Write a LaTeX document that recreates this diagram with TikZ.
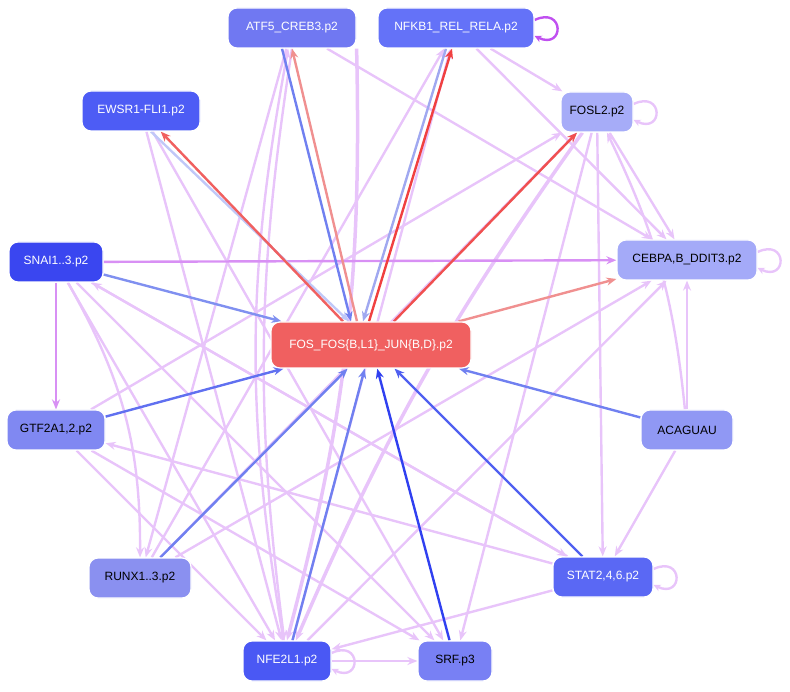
\documentclass[tikz,border=0pt]{standalone}
\usepackage{fontspec}
\setmainfont{Liberation Sans}
\usetikzlibrary{arrows.meta}
\begin{document}
\begin{tikzpicture}[x=1pt,y=-1pt,
 nd/.style={rounded corners=9pt,minimum height=40pt,inner sep=0pt,draw=white,line width=1.2pt,font=\fontsize{12}{12}\selectfont,text=#1},
 e/.style={line width=2.4pt,draw=#1,-{Stealth[length=10pt,width=8pt]}},
 lp/.style={line width=2.4pt,draw=#1,-{Stealth[length=7pt,width=7pt]}},
]
\useasboundingbox (0,0) rectangle (790,692);
\definecolor{cA}{HTML}{7078F2}\definecolor{cN}{HTML}{6472F8}\definecolor{cE}{HTML}{4D5CF5}
\definecolor{cF}{HTML}{A6ACF8}\definecolor{cS}{HTML}{3A46F0}\definecolor{cC}{HTML}{A4AAF8}
\definecolor{cO}{HTML}{F06060}\definecolor{cG}{HTML}{8088F2}\definecolor{cU}{HTML}{9098F4}
\definecolor{cR}{HTML}{8A90F0}\definecolor{cT}{HTML}{5A68F4}\definecolor{cL}{HTML}{4A58F4}
\definecolor{cP}{HTML}{7880F4}\definecolor{lv}{HTML}{E8C4FA}\definecolor{mv}{HTML}{D890F4}
\definecolor{k1}{HTML}{C050F0}\definecolor{b1}{HTML}{8090F0}\definecolor{b2}{HTML}{6070F0}
\definecolor{b3}{HTML}{7080F0}\definecolor{b4}{HTML}{3040F0}\definecolor{b5}{HTML}{5060F0}
\definecolor{b6}{HTML}{A0A8F0}\definecolor{b7}{HTML}{C0C8F8}\definecolor{r1}{HTML}{F09090}
\definecolor{r2}{HTML}{F04040}\definecolor{r3}{HTML}{F05050}\definecolor{r4}{HTML}{F06060}
\tikzset{v/.style={e=lv}}
\node[nd=white,fill=cA,minimum width=128pt] (atf) at (292,28) {ATF5\_CREB3.p2};
\node[nd=white,fill=cN,minimum width=156pt] (nfk) at (456,28) {NFKB1\_REL\_RELA.p2};
\node[nd=white,fill=cE,minimum width=118pt] (ews) at (141,111) {EWSR1-FLI1.p2};
\node[nd=black,fill=cF,minimum width=72pt] (fosl) at (597,112) {FOSL2.p2};
\node[nd=white,fill=cS,minimum width=94pt] (sna) at (56,262) {SNAI1..3.p2};
\node[nd=black,fill=cC,minimum width=140pt] (ceb) at (687,260) {CEBPA,B\_DDIT3.p2};
\node[nd=white,fill=cO,minimum width=200pt,minimum height=46pt] (fos) at (371,345) {FOS\_FOS\{B,L1\}\_JUN\{B,D\}.p2};
\node[nd=black,fill=cG,minimum width=98pt] (gtf) at (56,430) {GTF2A1,2.p2};
\node[nd=black,fill=cU,minimum width=92pt] (aca) at (687,430) {ACAGUAU};
\node[nd=black,fill=cR,minimum width=102pt] (run) at (140,578) {RUNX1..3.p2};
\node[nd=white,fill=cT,minimum width=100pt] (sta) at (603,577) {STAT2,4,6.p2};
\node[nd=white,fill=cL,minimum width=88pt] (nfe) at (287,661) {NFE2L1.p2};
\node[nd=black,fill=cP,minimum width=74pt] (srf) at (455,661) {SRF.p3};
% light violet edges
\draw[v] (atf) -- (ceb);
\draw[v] (atf.south) to[bend right=8] (nfe);
\draw[v,line width=3.5pt] (atf.south east) to[bend left=8] (nfe.north);
\draw[v] (atf) to (run);
\draw[v] (nfk) -- (fosl);
\draw[v] (nfk) -- (ceb);
\draw[v] (fosl) -- (ceb);
\draw[v,line width=3.5pt] (fosl) to[bend right=6] (nfe);
\draw[v] (fosl) -- (srf);
\draw[v] (fosl) -- (sta);
\draw[v] (aca) -- (ceb);
\draw[v] (aca) -- (sta);
\draw[v] (aca) to[bend right=10] (fosl);
\draw[v] (gtf) -- (fosl);
\draw[v] (gtf) -- (srf);
\draw[v] (gtf) -- (nfe);
\draw[v] (sna) -- (sta);
\draw[v] (sna) to[bend left=15] (run);
\draw[v] (sna) -- (srf);
\draw[v] (sna) -- (nfe);
\draw[v] (run) -- (nfk);
\draw[v] (run) -- (ceb);
\draw[v] (ews) -- (nfe);
\draw[v] (ews) -- (srf);
\draw[v] (sta) -- (nfe);
\draw[v] (sta) -- (gtf);
\draw[v] (nfe) -- (srf);
\draw[v] (nfe) -- (ceb);
\draw[v] (nfe) -- (nfk);
\draw[v] (sta) -- (sna);
\draw[v] (nfe) to[bend left=10] (atf);
\draw[v] (run) -- (fosl);
\draw[e=mv] (sna) -- (gtf);
\draw[e=mv] (sna) -- (ceb);
% self loops
\draw[lp=k1] ([yshift=8pt]nfk.east) .. controls +(30,-14) and +(30,14) .. ([yshift=-8pt]nfk.east);
\draw[lp=lv] ([yshift=8pt]fosl.east) .. controls +(30,-14) and +(30,14) .. ([yshift=-8pt]fosl.east);
\draw[lp=lv] ([yshift=8pt]ceb.east) .. controls +(30,-14) and +(30,14) .. ([yshift=-8pt]ceb.east);
\draw[lp=lv] ([yshift=8pt]sta.east) .. controls +(30,-14) and +(30,14) .. ([yshift=-8pt]sta.east);
\draw[lp=lv] ([yshift=8pt]nfe.east) .. controls +(30,-14) and +(30,14) .. ([yshift=-8pt]nfe.east);
% into FOS
\draw[e=b1] (sna) -- (fos);
\draw[e=b2] (gtf) -- (fos);
\draw[e=b3] (run) -- (fos);
\draw[e=b3] (nfe) -- (fos);
\draw[e=b4] (srf) -- (fos);
\draw[e=b5] (sta) -- (fos);
\draw[e=b3] (aca) -- (fos);
\draw[e=b3] ([xshift=-10pt]atf.south) -- ([xshift=-20pt]fos.north);
\draw[e=b6] ([xshift=-10pt]nfk.south) -- ([xshift=-8pt]fos.north);
\draw[e=b7] ([xshift=10pt]ews.south) -- ([xshift=-22pt]fos.north);
% from FOS
\draw[e=r1] ([xshift=-14pt]fos.north) -- ([xshift=0pt]atf.south);
\draw[e=r2] ([xshift=-2pt]fos.north) -- ([xshift=-4pt]nfk.south);
\draw[e=r3] (fos) -- (fosl);
\draw[e=r1] (fos) -- (ceb);
\draw[e=r4] ([xshift=-28pt]fos.north) -- (ews);
% redraw nodes on top
\node[nd=white,fill=cA,minimum width=128pt] at (292,28) {ATF5\_CREB3.p2};
\node[nd=white,fill=cN,minimum width=156pt] at (456,28) {NFKB1\_REL\_RELA.p2};
\node[nd=white,fill=cE,minimum width=118pt] at (141,111) {EWSR1-FLI1.p2};
\node[nd=black,fill=cF,minimum width=72pt] at (597,112) {FOSL2.p2};
\node[nd=white,fill=cS,minimum width=94pt] at (56,262) {SNAI1..3.p2};
\node[nd=black,fill=cC,minimum width=140pt] at (687,260) {CEBPA,B\_DDIT3.p2};
\node[nd=white,fill=cO,minimum width=200pt,minimum height=46pt] at (371,345) {FOS\_FOS\{B,L1\}\_JUN\{B,D\}.p2};
\node[nd=black,fill=cG,minimum width=98pt] at (56,430) {GTF2A1,2.p2};
\node[nd=black,fill=cU,minimum width=92pt] at (687,430) {ACAGUAU};
\node[nd=black,fill=cR,minimum width=102pt] at (140,578) {RUNX1..3.p2};
\node[nd=white,fill=cT,minimum width=100pt] at (603,577) {STAT2,4,6.p2};
\node[nd=white,fill=cL,minimum width=88pt] at (287,661) {NFE2L1.p2};
\node[nd=black,fill=cP,minimum width=74pt] at (455,661) {SRF.p3};
\end{tikzpicture}
\end{document}
